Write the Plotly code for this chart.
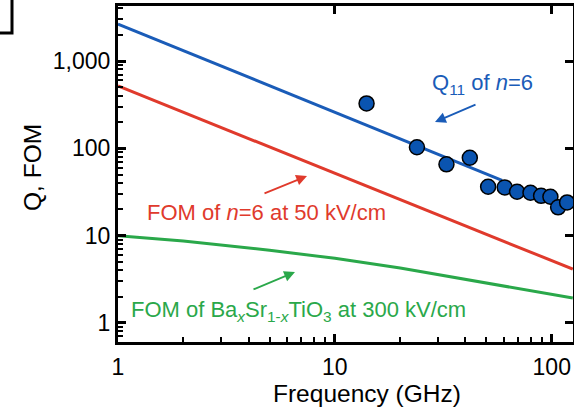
import plotly.graph_objects as go

# ---------------- data ----------------
freq_meas = [14.0, 23.9, 32.7, 41.9, 50.9, 60.7, 69.2, 79.8, 89.3, 98.6, 107.0, 117.7]
q11_meas = [327, 103, 65.6, 78, 36.3, 35.7, 31.8, 31.0, 28.6, 27.9, 21.1, 24.0]

freq_qfit = [1, 59]
q_fit = [2650, 43]

freq_fom_n6 = [1, 125]
fom_n6 = [518, 4.14]

freq_fom_bst = [1, 2, 5, 10, 20, 50, 125]
fom_bst = [10.0, 8.7, 6.8, 5.5, 4.25, 2.86, 1.93]

x_tickvals = [1, 10, 100]
x_ticktext = ["1", "10", "100"]
y_tickvals = [1, 10, 100, 1000]
y_ticktext = ["1", "10", "100", "1,000"]

# minor tick positions (2..9 in each decade)
x_minor = [m * d for d in (1, 10, 100) for m in range(2, 10)]
y_minor = [m * d for d in (0.1, 1, 10, 100, 1000) for m in range(2, 10)]

# ---------------- style ----------------
FONT = "Liberation Sans, Arial, Helvetica, sans-serif"
BLUE = "#1a5cb8"
RED = "#e03a2c"
GREEN = "#2aa84a"
DOT = "#0a54b0"

W, H = 574, 408
ML, MR, MT, MB = 118, 1, 6, 66
PW, PH = W - ML - MR, H - MT - MB


def px(xp):
    return (xp - ML) / PW


def py(yp):
    return (H - MB - yp) / PH


fig = go.Figure()

fig.add_trace(go.Scatter(x=freq_fom_bst, y=fom_bst, mode="lines",
                         line=dict(color=GREEN, width=3), showlegend=False))
fig.add_trace(go.Scatter(x=freq_fom_n6, y=fom_n6, mode="lines",
                         line=dict(color=RED, width=3), showlegend=False))
fig.add_trace(go.Scatter(x=freq_qfit, y=q_fit, mode="lines",
                         line=dict(color=BLUE, width=3), showlegend=False))
fig.add_trace(go.Scatter(x=freq_meas, y=q11_meas, mode="markers",
                         marker=dict(color=DOT, size=15, line=dict(color="black", width=1.5)),
                         showlegend=False))
# invisible trace on mirror axes
fig.add_trace(go.Scatter(x=[1], y=[1], xaxis="x2", yaxis="y2", mode="markers",
                         marker=dict(opacity=0), showlegend=False, hoverinfo="skip"))

xr = [0, 2.098]
yr = [-0.218, 3.63]

fig.update_layout(
    width=W, height=H,
    margin=dict(l=ML, r=MR, t=MT, b=MB),
    paper_bgcolor="white", plot_bgcolor="white",
    font=dict(family=FONT, size=23, color="black"),
    xaxis=dict(type="log", range=xr, tickmode="array", tickvals=x_tickvals, ticktext=x_ticktext,
               ticks="inside", ticklen=8, tickwidth=2.5, tickcolor="black",
               showline=True, linewidth=3, linecolor="black", mirror=True,
               showgrid=False, zeroline=False, automargin=False,
               tickfont=dict(size=23), ticklabelstandoff=2,
               minor=dict(tickmode="array", tickvals=x_minor, ticks="inside", ticklen=5,
                          tickwidth=2, tickcolor="black", showgrid=False)),
    yaxis=dict(type="log", range=yr, tickmode="array", tickvals=y_tickvals, ticktext=y_ticktext,
               ticks="inside", ticklen=8, tickwidth=2.5, tickcolor="black",
               showline=True, linewidth=3, linecolor="black", mirror=True,
               showgrid=False, zeroline=False, automargin=False,
               tickfont=dict(size=23),
               minor=dict(tickmode="array", tickvals=y_minor, ticks="inside", ticklen=5,
                          tickwidth=2, tickcolor="black", showgrid=False)),
    xaxis2=dict(type="log", range=xr, overlaying="x", side="top", tickvals=x_tickvals,
                ticks="inside", ticklen=8, tickwidth=2.5, tickcolor="black", automargin=False,
                showticklabels=False, showgrid=False, zeroline=False, showline=False),
    yaxis2=dict(type="log", range=yr, overlaying="y", side="right", tickvals=y_tickvals,
                ticks="inside", ticklen=8, tickwidth=2.5, tickcolor="black", automargin=False,
                showticklabels=False, showgrid=False, zeroline=False, showline=False),
)

ann = []
# axis titles
ann.append(dict(text="Frequency (GHz)", x=px(367), y=py(394), xref="paper", yref="paper",
                xanchor="center", yanchor="middle", showarrow=False,
                font=dict(size=24.5, color="black", family=FONT)))
ann.append(dict(text="Q, FOM", x=px(33), y=py(168), xref="paper", yref="paper",
                xanchor="center", yanchor="middle", showarrow=False, textangle=-90,
                font=dict(size=24.5, color="black", family=FONT)))
# labels
ann.append(dict(text="Q<sub>11</sub> of <i>n</i>=6", x=px(482), y=py(84), xref="paper", yref="paper",
                xanchor="center", yanchor="middle", showarrow=False,
                font=dict(size=22, color=BLUE, family=FONT)))
ann.append(dict(text="FOM of <i>n</i>=6 at 50 kV/cm", x=px(266), y=py(212), xref="paper", yref="paper",
                xanchor="center", yanchor="middle", showarrow=False,
                font=dict(size=22, color=RED, family=FONT)))
ann.append(dict(text="FOM of Ba<sub><i>x</i></sub>Sr<sub>1-<i>x</i></sub>TiO<sub>3</sub> at 300 kV/cm",
                x=px(298), y=py(311), xref="paper", yref="paper",
                xanchor="center", yanchor="middle", showarrow=False,
                font=dict(size=22, color=GREEN, family=FONT)))
# arrows
for hx, hy, tx, ty, c in [(435, 122, 477, 104, BLUE), (307, 176, 263, 194, RED), (295, 272, 252, 290, GREEN)]:
    ann.append(dict(text="", x=px(hx), y=py(hy), xref="paper", yref="paper",
                    ax=tx - hx, ay=ty - hy, showarrow=True, arrowhead=2, arrowsize=1.2,
                    arrowwidth=1.8, arrowcolor=c, standoff=0, startstandoff=0))
fig.update_layout(annotations=ann)

# top-left bracket fragment (panel label box)
fig.add_shape(type="path", xref="paper", yref="paper",
              path=f"M {px(-2)},{py(33)} L {px(12)},{py(33)} L {px(12)},{py(-2)}",
              line=dict(color="black", width=3))

fig.write_html("out.html", config={"displayModeBar": False},
               post_script="document.body.style.margin='0';document.body.style.overflow='hidden';")
